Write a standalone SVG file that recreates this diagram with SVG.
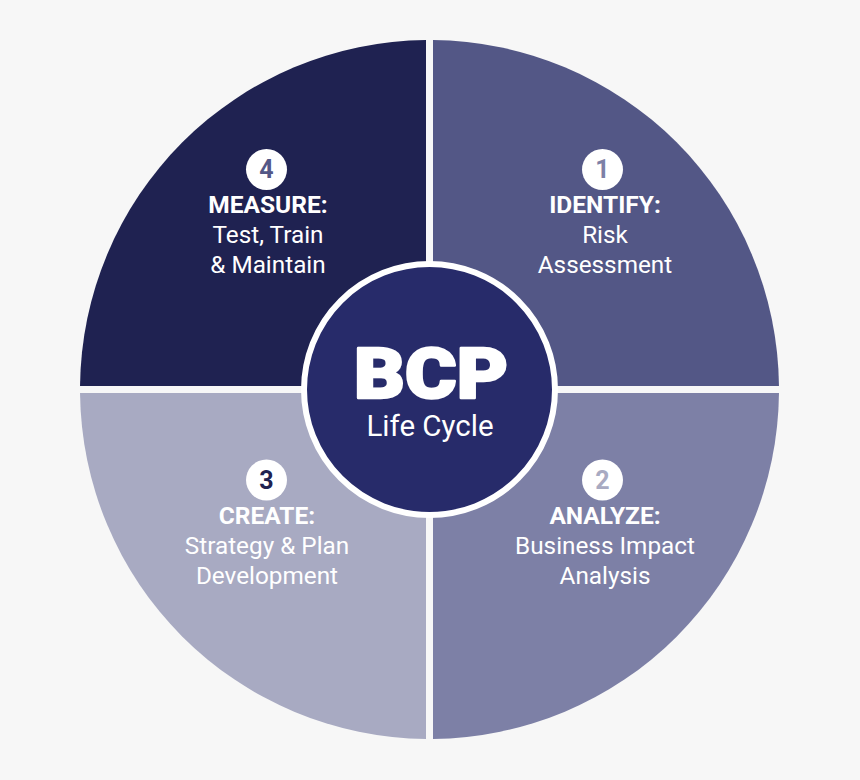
<svg xmlns="http://www.w3.org/2000/svg" width="860" height="780" viewBox="0 0 860 780">
<style>
.bg{fill:#f7f7f7}
.q text{font-family:Roboto,"Liberation Sans",sans-serif;fill:#fff;text-anchor:middle}
.hd{font-size:24.5px;font-weight:700}
.tx{font-size:24.3px;font-weight:400}
.num{font-size:25px;font-weight:700}
.badge{fill:#fff}
</style>
<rect class="bg" x="0" y="0" width="860" height="780"/>
<g id="q4" class="q">
<path d="M426 386 L426 40.02 A349.5 349.5 0 0 0 80.02 386 Z" fill="#1f2251"/>
<circle class="badge" cx="266.5" cy="169.5" r="20.5"/>
<text class="num" x="266.5" y="178" style="fill:#535786">4</text>
<text class="hd" x="268" y="213">MEASURE:</text>
<text class="tx" x="268" y="243">Test, Train</text>
<text class="tx" x="268" y="273">&amp; Maintain</text>
</g>
<g id="q1" class="q">
<path d="M433 386 L433 40.02 A349.5 349.5 0 0 1 778.98 386 Z" fill="#535786"/>
<circle class="badge" cx="602.5" cy="169.5" r="20.5"/>
<text class="num" x="602.5" y="178" style="fill:#7d80a6">1</text>
<text class="hd" x="605" y="213">IDENTIFY:</text>
<text class="tx" x="605" y="243">Risk</text>
<text class="tx" x="605" y="273">Assessment</text>
</g>
<g id="q3" class="q">
<path d="M426 393 L426 738.98 A349.5 349.5 0 0 1 80.02 393 Z" fill="#a8aac2"/>
<circle class="badge" cx="266.5" cy="480" r="20.5"/>
<text class="num" x="266.5" y="488.5" style="fill:#1f2251">3</text>
<text class="hd" x="267" y="524">CREATE:</text>
<text class="tx" x="267" y="554">Strategy &amp; Plan</text>
<text class="tx" x="267" y="584">Development</text>
</g>
<g id="q2" class="q">
<path d="M433 393 L433 738.98 A349.5 349.5 0 0 0 778.98 393 Z" fill="#7d80a6"/>
<circle class="badge" cx="602.5" cy="480" r="20.5"/>
<text class="num" x="602.5" y="488.5" style="fill:#a8aac2">2</text>
<text class="hd" x="605" y="524">ANALYZE:</text>
<text class="tx" x="605" y="554">Business Impact</text>
<text class="tx" x="605" y="584">Analysis</text>
</g>
<g id="center" class="q">
<circle cx="429.5" cy="389.5" r="125.5" fill="#272b6a" stroke="#fff" stroke-width="6"/>
<text x="431" y="398" style="font-size:70px;font-weight:900;stroke:#fff;stroke-width:2.5;stroke-linejoin:round" textLength="154" lengthAdjust="spacingAndGlyphs">BCP</text>
<text x="430" y="436" style="font-size:29.5px;font-weight:400">Life Cycle</text>
</g>
</svg>
